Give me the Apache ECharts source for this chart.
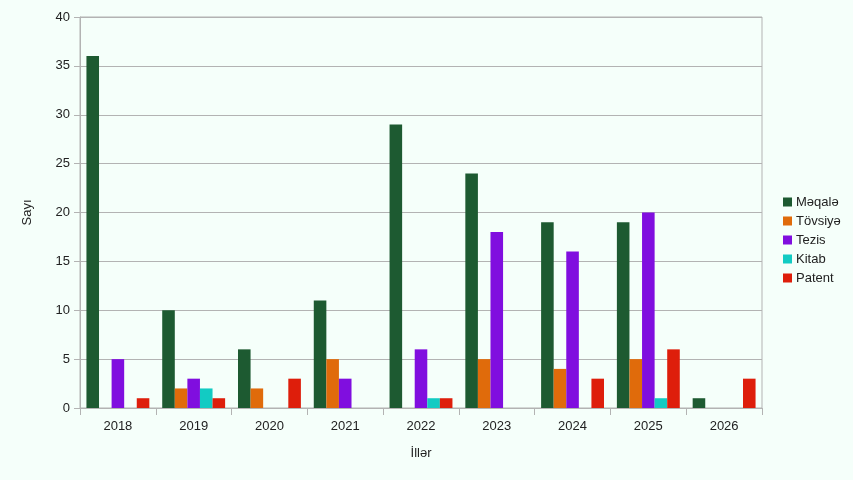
<!DOCTYPE html>
<html><head><meta charset="utf-8">
<script src="https://cdn.jsdelivr.net/npm/echarts@6/dist/echarts.min.js"></script>
<style>html,body{margin:0;padding:0;background:#f5fffa}#c{width:853px;height:480px}</style>
</head><body><div id="c"></div>
<script>
const years = ['2018','2019','2020','2021','2022','2023','2024','2025','2026'];
const seriesNames = ['Məqalə','Tövsiyə','Tezis','Kitab','Patent'];
const maqale = [36,10,6,11,29,24,19,19,1];
const tovsiye = [0,2,2,5,0,5,4,5,0];
const tezis = [5,3,0,3,6,18,16,20,0];
const kitab = [0,2,0,0,1,0,0,1,0];
const patent = [1,1,3,0,1,0,3,6,3];
const colors = ['#1d5a31','#e06b0b','#800edf','#12cbc3','#de1e0b'];
const values = [maqale,tovsiye,tezis,kitab,patent];
const font = 'Liberation Sans';
const chart = echarts.init(document.getElementById('c'));
chart.setOption({
  backgroundColor:'#f5fffa',
  animation:false,
  color:colors,
  textStyle:{fontFamily:font},
  grid:{left:80,right:91,top:17,bottom:72,show:true,borderColor:'#b3b3b3',borderWidth:1,backgroundColor:'transparent'},
  legend:{orient:'vertical',left:778,top:'middle',itemWidth:9,itemHeight:9,itemGap:6,icon:'rect',
    textStyle:{fontFamily:font,fontSize:13,color:'#222',padding:[0,0,0,-1]},data:seriesNames},
  xAxis:{type:'category',data:years,name:'İllər',nameLocation:'middle',nameGap:39,
    nameTextStyle:{fontFamily:font,fontSize:13,color:'#222'},
    axisLine:{lineStyle:{color:'#b3b3b3'}},axisTick:{show:true,length:7,lineStyle:{color:'#b3b3b3'}},
    axisLabel:{fontFamily:font,fontSize:13,color:'#222',margin:12}},
  yAxis:{type:'value',min:0,max:40,interval:5,name:'Sayı',nameLocation:'middle',nameGap:46,
    nameTextStyle:{fontFamily:font,fontSize:13,color:'#222'},
    axisLine:{show:true,lineStyle:{color:'#b3b3b3'}},axisTick:{show:true,length:6,lineStyle:{color:'#b3b3b3'}},
    splitLine:{lineStyle:{color:'#b3b3b3'}},
    axisLabel:{fontFamily:font,fontSize:13,color:'#222',margin:10}},
  series: seriesNames.map((n,i)=>({name:n,type:'bar',data:values[i],barGap:'0%',barCategoryGap:'17%',
    itemStyle:{color:colors[i]}}))
});
</script></body></html>
